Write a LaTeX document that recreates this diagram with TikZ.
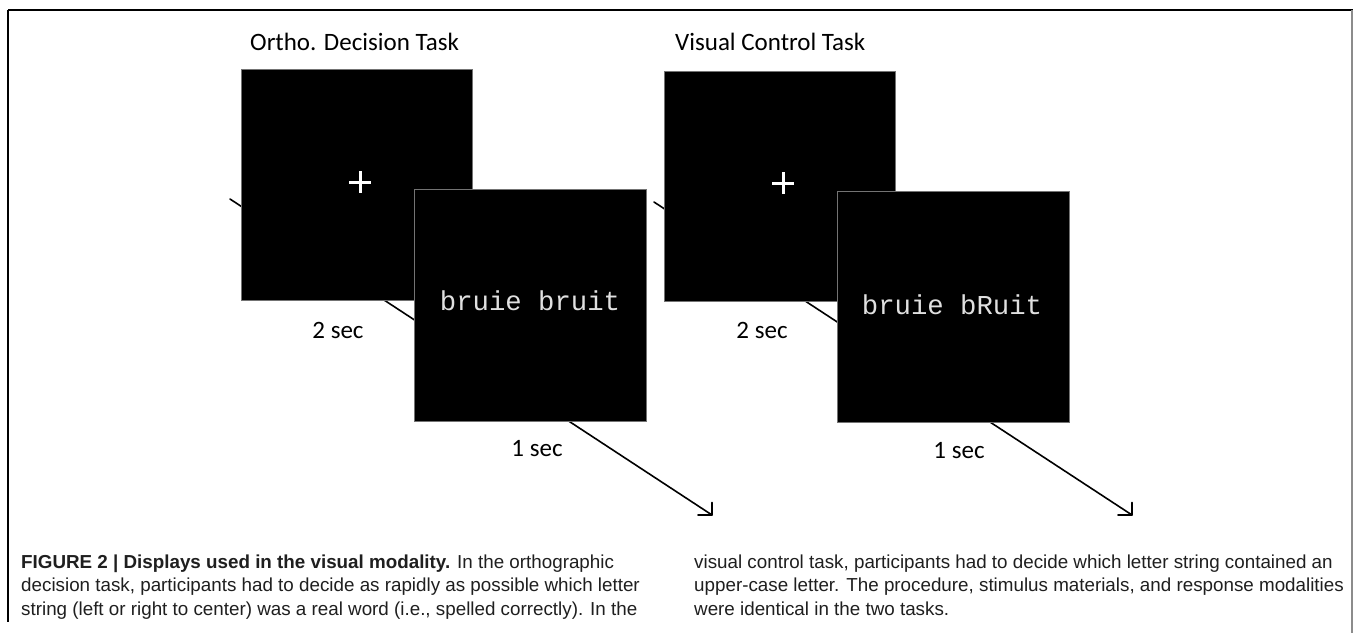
\documentclass[tikz,border=0pt]{standalone}
\usepackage{fontspec}
\setmainfont{Carlito}
\newfontfamily\monofnt{Liberation Mono}
\newfontfamily\capfnt{Liberation Sans}
\begin{document}
\begin{tikzpicture}[x=1pt,y=-1pt,
  screen/.style={fill=black,draw=black!55,line width=0.8pt},
  flow/.style={line width=1.6pt,line cap=round},
  lbl/.style={font=\fontsize{25}{30}\selectfont,text=black,inner sep=0pt},
  stim/.style={font=\monofnt\fontsize{27.3}{32}\selectfont,text=white!88!black,inner sep=0pt},
  capt/.style={font=\capfnt\fontsize{18.8}{23.5}\selectfont,text=black!88,inner sep=0pt,anchor=base west},
  fix/.style={draw=white,line width=3pt}]
\useasboundingbox (0,0) rectangle (1354,633);
\fill[white] (0,0) rectangle (1354,633);
% frame
\draw[line width=1.3pt] (8,10) -- (1353,10);
\draw[line width=1.1pt] (8,10) -- (8,622);
\draw[black!45,line width=1.1pt] (1352,10) -- (1352,633);
% time lines
\coordinate (a1s) at (230,199);
\coordinate (a1e) at (712,515);
\coordinate (a2s) at (654,202);
\coordinate (a2e) at (1132,515);
\draw[flow] (a1s) -- (a1e);
\draw[flow] (a1e) -- ++(0,-12.5) (a1e) -- ++(-14,0);
\draw[flow] (a2s) -- (a2e);
\draw[flow] (a2e) -- ++(0,-12.5) (a2e) -- ++(-14,0);
% left panel
\node[lbl,anchor=base west] (t1) at (250,50) {Ortho. Decision Task};
\path[screen] (241,69) rectangle (472,300);
\draw[fix] (360,171) -- (360,193) (349,182) -- (371,182);
\node[lbl] (s1) at (338,330) {2 sec};
\path[screen] (414,189) rectangle (646,421);
\node[stim] (w1) at (530,301) {bruie bruit};
\node[lbl] (u1) at (537,449) {1 sec};
% right panel
\node[lbl,anchor=base west] (t2) at (675,50) {Visual Control Task};
\path[screen] (664,71) rectangle (895,301);
\draw[fix] (783,172) -- (783,194) (772,183) -- (794,183);
\node[lbl] (s2) at (762,330) {2 sec};
\path[screen] (837,191) rectangle (1069,422);
\node[stim] (w2) at (952,305) {bruie bRuit};
\node[lbl] (u2) at (959,451) {1 sec};
% caption
\node[capt] (c1) at (21,568) {\textbf{FIGURE 2 | Displays used in the visual modality.} In the orthographic};
\node[capt] (c2) at (21,591.5) {decision task, participants had to decide as rapidly as possible which letter};
\node[capt] (c3) at (21,615) {string (left or right to center) was a real word (i.e., spelled correctly). In the};
\node[capt] (c4) at (694,568) {visual control task, participants had to decide which letter string contained an};
\node[capt] (c5) at (694,591.5) {upper-case letter. The procedure, stimulus materials, and response modalities};
\node[capt] (c6) at (694,615) {were identical in the two tasks.};
\end{tikzpicture}
\end{document}
